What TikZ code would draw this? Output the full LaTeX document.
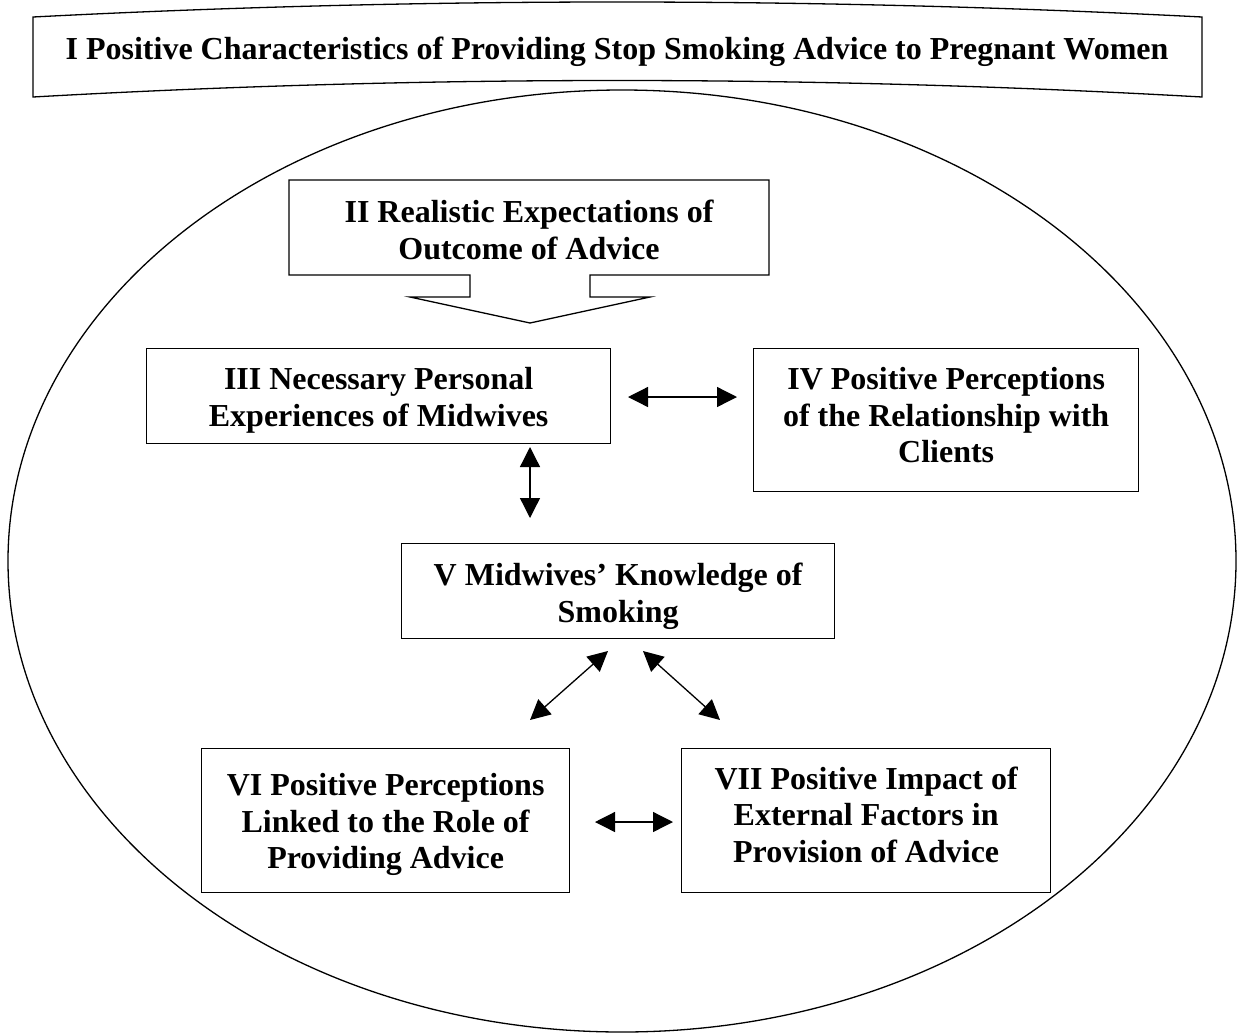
\documentclass[tikz,border=0pt]{standalone}
\usepackage{fontspec}
\setmainfont{Liberation Serif}
\usetikzlibrary{arrows.meta}
\begin{document}
\begin{tikzpicture}[x=1pt,y=-1pt,
  lbl/.style={font=\fontsize{32}{36.5}\selectfont\bfseries,align=center,inner sep=0pt},
  boxline/.style={draw=black,line width=1.3pt},
  dbl/.style={line width=1.3pt,{Triangle[length=20pt,width=20pt]}-{Triangle[length=20pt,width=20pt]}}]
\useasboundingbox (0,0) rectangle (1242,1034);
% banner
\draw[boxline] (33,17) .. controls (422,-3) and (812,-3) .. (1202,17) -- (1202,97)
  .. controls (812,75) and (422,75) .. (33,97) -- cycle;
\node[lbl] (t1) at (617,52) {I Positive Characteristics of Providing Stop Smoking Advice to Pregnant Women};
% ellipse
\draw[boxline] (622,561) ellipse [x radius=614, y radius=471];
% II callout
\draw[boxline] (289,180) -- (769,180) -- (769,275) -- (590,275) -- (590,297) -- (650,297)
  -- (530,323) -- (410,297) -- (470,297) -- (470,275) -- (289,275) -- cycle;
\node[lbl] (n2) at (529,230) {II Realistic Expectations of\\Outcome of Advice};
% boxes
\node[boxline,minimum width=464pt,minimum height=95pt,anchor=north west] (b3) at (146,348) {};
\node[lbl] at ([yshift=-4pt]b3.center) {III Necessary Personal\\Experiences of Midwives};
\node[boxline,minimum width=385pt,minimum height=143pt,anchor=north west] (b4) at (753,348) {};
\node[lbl] at ([yshift=5pt]b4.center) {IV Positive Perceptions\\of the Relationship with\\Clients};
\node[boxline,minimum width=433pt,minimum height=95pt,anchor=north west] (b5) at (401,543) {};
\node[lbl] at ([yshift=-5pt]b5.center) {V Midwives' Knowledge of\\Smoking};
\node[boxline,minimum width=368pt,minimum height=144pt,anchor=north west] (b6) at (201,748) {};
\node[lbl] at ([yshift=-4pt]b6.center) {VI Positive Perceptions\\Linked to the Role of\\Providing Advice};
\node[boxline,minimum width=369pt,minimum height=144pt,anchor=north west] (b7) at (681,748) {};
\node[lbl] at ([yshift=6pt]b7.center) {VII Positive Impact of\\External Factors in\\Provision of Advice};
% arrow endpoints
\coordinate (a34) at (628,397); \coordinate (a43) at (737,397);
\coordinate (a35) at (530,447); \coordinate (a53) at (530,518);
\coordinate (a56) at (608,651); \coordinate (a65) at (530,720);
\coordinate (a57) at (643,651); \coordinate (a75) at (720,720);
\coordinate (a67) at (595,822); \coordinate (a76) at (673,822);
\draw[dbl] (a34) -- (a43);
\draw[dbl] (a35) -- (a53);
\draw[dbl] (a56) -- (a65);
\draw[dbl] (a57) -- (a75);
\draw[dbl] (a67) -- (a76);
\end{tikzpicture}
\end{document}
